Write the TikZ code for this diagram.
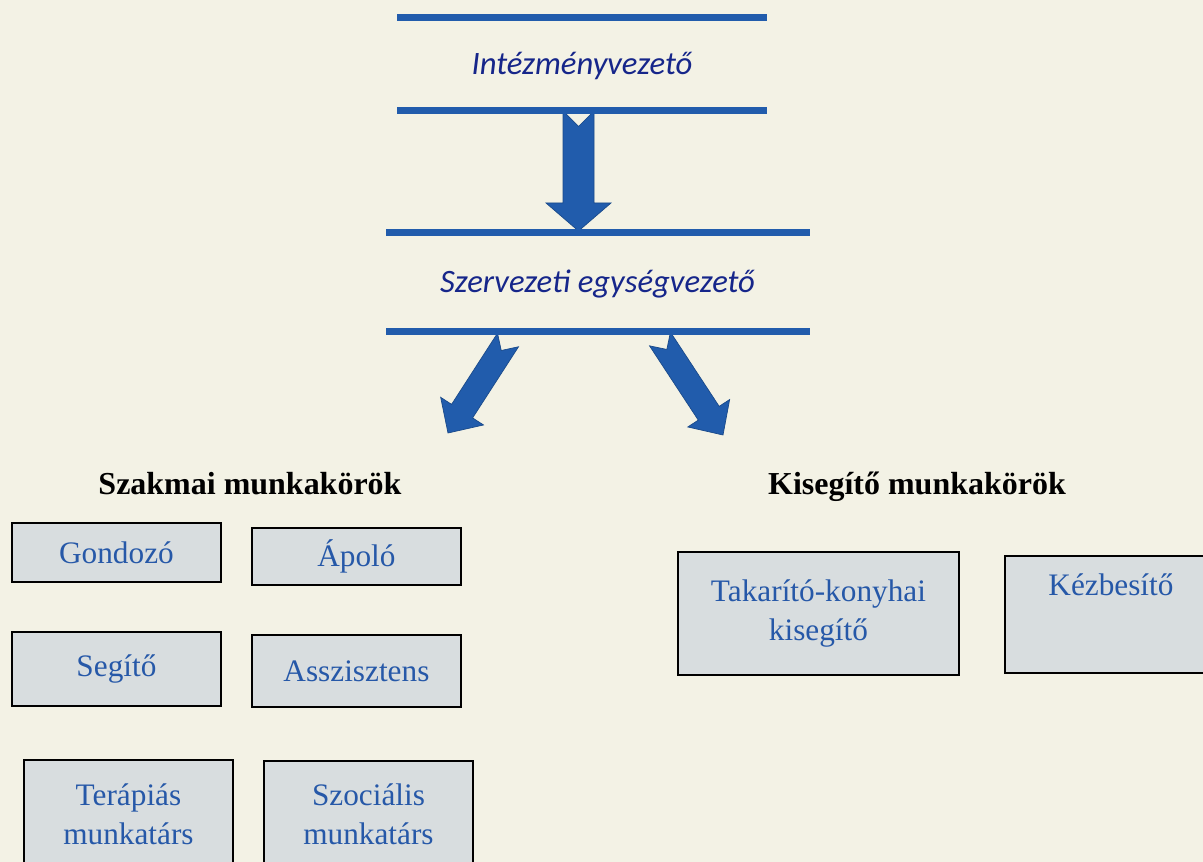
\documentclass[tikz,border=0pt]{standalone}
\usepackage{fontspec}
\setmainfont{Liberation Serif}
\newfontfamily\calibrifont{Carlito}
\usepackage{xcolor}
\usetikzlibrary{arrows.meta,positioning,calc}
\definecolor{bgcream}{RGB}{243,242,229}
\definecolor{barblue}{RGB}{33,92,172}
\definecolor{headnavy}{RGB}{22,38,138}
\definecolor{jobblue}{RGB}{38,88,168}
\definecolor{boxgray}{RGB}{216,221,223}
% block arrow with notched tail: from, to, shaft half width, head half width, head length
\newcommand{\blockarrow}[5]{%
  \filldraw[blockfill]
    ($(#1)!#3!90:(#2)$) -- ($(#1)!#3!(#2)$) -- ($(#1)!#3!-90:(#2)$)
    -- ($(#2)!#5!(#1)!#3!90:(#1)$) -- ($(#2)!#5!(#1)!#4!90:(#1)$)
    -- (#2)
    -- ($(#2)!#5!(#1)!#4!-90:(#1)$) -- ($(#2)!#5!(#1)!#3!-90:(#1)$) -- cycle;}

\begin{document}
\begin{tikzpicture}[>=Stealth,
    bar/.style={barblue, line width=0.14cm},
    headtext/.style={text=headnavy, font=\calibrifont\itshape\fontsize{18.6}{22}\selectfont},
    grouptitle/.style={font=\bfseries\fontsize{18.2}{22}\selectfont},
    jobbox/.style={draw=black, line width=1.1pt, fill=boxgray, anchor=north west,
        minimum width=4.18cm, minimum height=#1},
    jobtext/.style={text=jobblue, font=\fontsize{17.8}{22}\selectfont, align=center},
    blockfill/.style={fill=barblue, draw=barblue!80!black, line width=0.4pt}]

    % Page
    \useasboundingbox (0,0) rectangle (24.06,-17.24);
    \fill[bgcream] (0,0) rectangle (24.06,-17.24);

    % Leaders
    \node[headtext] (inst) at (11.64,-1.32) {Intézményvezető};
    \node[headtext] (unit) at (11.95,-5.68) {Szervezeti egységvezető};

    % Arrows
    \coordinate (downtail) at (11.57,-2.22);
    \coordinate (downtip) at (11.57,-4.62);
    \coordinate (lefttail) at (10.16,-6.8);
    \coordinate (lefttip) at (8.96,-8.66);
    \coordinate (righttail) at (13.2,-6.78);
    \coordinate (righttip) at (14.46,-8.7);
    \blockarrow{downtail}{downtip}{0.31cm}{0.65cm}{0.56cm}
    \blockarrow{lefttail}{lefttip}{0.25cm}{0.51cm}{0.52cm}
    \blockarrow{righttail}{righttip}{0.25cm}{0.5cm}{0.52cm}

    % Bars
    \draw[bar] (7.94,-0.36) -- (15.34,-0.36);
    \draw[bar] (7.94,-2.22) -- (15.34,-2.22);
    \draw[bar] (7.72,-4.66) -- (16.2,-4.66);
    \draw[bar] (7.72,-6.64) -- (16.2,-6.64);

    % Group titles
    \node[grouptitle] (szak) at (5.0,-9.68) {Szakmai munkakörök};
    \node[grouptitle] (kis) at (18.34,-9.74) {Kisegítő munkakörök};

    % Boxes
    \node[jobbox=1.18cm, jobtext] (gond) at (0.22,-10.44) {Gondozó};
    \node[jobbox=1.14cm, jobtext] (apolo) at (5.02,-10.54) {Ápoló};
    \node[jobbox=1.48cm, jobtext] (segito) at (0.22,-12.62) {Segítő};
    \node[jobbox=1.44cm, jobtext] (asszisztens) at (5.02,-12.68) {Asszisztens};
    \node[jobbox=2.16cm, jobtext] (terapias) at (0.46,-15.18) {Terápiás\\munkatárs};
    \node[jobbox=2.14cm, jobtext] (szocialis) at (5.26,-15.2) {Szociális\\munkatárs};
    \node[jobbox=2.46cm, jobtext, minimum width=5.62cm] (takarito) at (13.54,-11.02) {Takarító-konyhai\\kisegítő};
    \node[jobbox=2.34cm, minimum width=4.24cm] (kezbox) at (20.08,-11.1) {};
    \node[jobtext, below=0.26cm of kezbox.north] (kez) {Kézbesítő};
\end{tikzpicture}
\end{document}
